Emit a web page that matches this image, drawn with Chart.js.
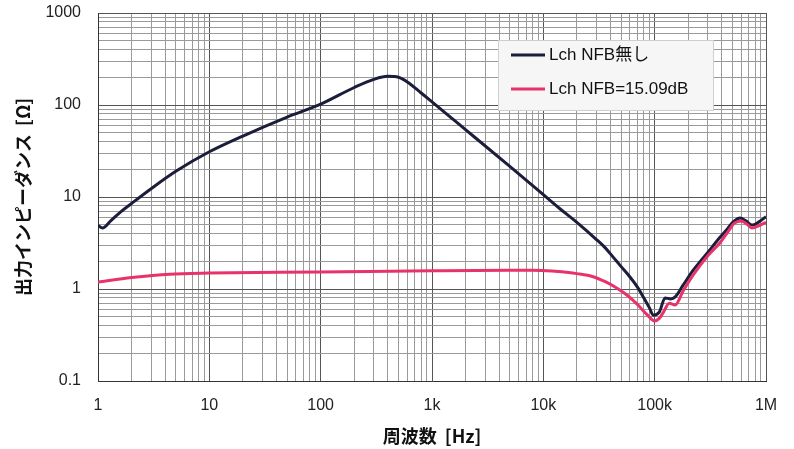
<!DOCTYPE html>
<html lang="ja">
<head>
    <meta charset="UTF-8">
    <title>出力インピーダンス</title>
    <style>
        body { margin: 0; background: #ffffff; }
        canvas { display: block; }
    </style>
</head>
<body>
    <canvas id="impChart" width="794" height="449"></canvas>

    <script src="https://cdn.jsdelivr.net/npm/chart.js"></script>
    <script>
        // Lch NFB無し
        const blackFreq = [1, 1.1, 1.3, 1.6, 2, 3, 5, 10, 20, 50, 100, 200, 300, 400, 500, 600, 800, 1000, 1500, 2000, 5000, 10000, 14000, 20000, 30000, 36000, 42000, 50000, 60000, 70000, 80000, 90000, 97000, 110000, 124000, 139000, 153000, 180000, 222000, 300000, 388000, 450000, 507000, 586000, 660000, 751000, 870000, 1000000];
        const blackZ = [4.9, 4.6, 5.5, 6.9, 8.5, 12.3, 19, 31, 46, 74, 102, 155, 190, 205, 200, 178, 135, 108, 72, 54, 21.5, 10.6, 7.5, 5.3, 3.45, 2.8, 2.25, 1.75, 1.35, 1.05, 0.8, 0.62, 0.52, 0.56, 0.8, 0.78, 0.82, 1.1, 1.6, 2.5, 3.67, 4.5, 5.35, 5.9, 5.5, 4.95, 5.4, 6.1];

        // Lch NFB=15.09dB
        const redFreq = [1, 2, 4.4, 10, 100, 1000, 5000, 8000, 12000, 16000, 20000, 28000, 36000, 46000, 57000, 70000, 85000, 100000, 110000, 120000, 135000, 153000, 180000, 222000, 300000, 388000, 450000, 520000, 600000, 670000, 751000, 870000, 1000000];
        const redZ = [1.19, 1.33, 1.45, 1.49, 1.53, 1.58, 1.6, 1.6, 1.57, 1.52, 1.47, 1.36, 1.2, 1.02, 0.85, 0.68, 0.53, 0.45, 0.48, 0.56, 0.7, 0.67, 0.95, 1.42, 2.3, 3.2, 4.1, 5.2, 5.5, 5.1, 4.6, 4.9, 5.3];

        const seriesLabels = ['Lch NFB無し', 'Lch NFB=15.09dB'];
        const seriesColors = ['#1b1d3a', '#e8336a'];

        const xTickLabels = { 1: '1', 10: '10', 100: '100', 1000: '1k', 10000: '10k', 100000: '100k', 1000000: '1M' };
        const yTickLabels = { 0.1: '0.1', 1: '1', 10: '10', 100: '100', 1000: '1000' };

        const toPoints = (xs, ys) => xs.map((x, i) => ({ x: x, y: ys[i] }));

        // 1..9 per decade grid
        function decadeTicks(minExp, maxExp) {
            const out = [];
            for (let e = minExp; e < maxExp; e++) {
                for (let s = 1; s <= 9; s++) {
                    out.push({ value: parseFloat((s * Math.pow(10, e)).toPrecision(6)) });
                }
            }
            out.push({ value: Math.pow(10, maxExp) });
            return out;
        }
        const isDecade = v => Math.abs(Math.log10(v) - Math.round(Math.log10(v))) < 1e-6;

        const legendBox = {
            id: 'legendBox',
            afterDraw(chart) {
                const ctx = chart.ctx;
                ctx.save();
                ctx.fillStyle = '#f6f6f6';
                ctx.strokeStyle = '#cfcfcf';
                ctx.lineWidth = 1;
                ctx.fillRect(498, 40, 215, 70);
                ctx.strokeRect(498.5, 40.5, 215, 70);
                ctx.font = '17px "Liberation Sans", "Noto Sans CJK JP", sans-serif';
                ctx.textBaseline = 'middle';
                const rows = [55, 89];
                rows.forEach((y, i) => {
                    ctx.strokeStyle = seriesColors[i];
                    ctx.lineWidth = 3;
                    ctx.beginPath();
                    ctx.moveTo(511, y);
                    ctx.lineTo(545, y);
                    ctx.stroke();
                    ctx.fillStyle = '#111111';
                    ctx.fillText(seriesLabels[i], 549, y);
                });
                ctx.restore();
            }
        };

        const gridColor = c => (c.tick && isDecade(c.tick.value)) ? '#555555' : '#9a9a9a';

        new Chart(document.getElementById('impChart').getContext('2d'), {
            type: 'line',
            data: {
                datasets: [
                    {
                        label: seriesLabels[1],
                        data: toPoints(redFreq, redZ),
                        borderColor: seriesColors[1],
                        borderWidth: 3,
                        pointRadius: 0,
                        cubicInterpolationMode: 'monotone'
                    },
                    {
                        label: seriesLabels[0],
                        data: toPoints(blackFreq, blackZ),
                        borderColor: seriesColors[0],
                        borderWidth: 3,
                        pointRadius: 0,
                        cubicInterpolationMode: 'monotone'
                    }
                ]
            },
            options: {
                responsive: false,
                animation: false,
                layout: { padding: { top: 13, right: 28, left: 0, bottom: 0 } },
                plugins: {
                    legend: { display: false },
                    tooltip: { enabled: false }
                },
                scales: {
                    x: {
                        type: 'logarithmic',
                        min: 1,
                        max: 1000000,
                        afterBuildTicks: axis => { axis.ticks = decadeTicks(0, 6); },
                        afterFit: axis => {
                            axis.height = 68;
                            axis.paddingLeft = 0;
                            axis.paddingRight = 0;
                        },
                        border: { color: '#333333', width: 1 },
                        grid: { color: gridColor, drawTicks: false },
                        ticks: {
                            autoSkip: false,
                            maxRotation: 0,
                            padding: 15,
                            color: '#222222',
                            font: { family: '"Liberation Sans", Arial, sans-serif', size: 16 },
                            callback: v => xTickLabels[v] || ''
                        },
                        title: {
                            display: true,
                            text: '周波数  [Hz]',
                            color: '#111111',
                            font: { family: '"Noto Sans CJK JP", sans-serif', size: 18, weight: 'bold' },
                            padding: { top: 0, bottom: 2 }
                        }
                    },
                    y: {
                        type: 'logarithmic',
                        min: 0.1,
                        max: 1000,
                        afterBuildTicks: axis => { axis.ticks = decadeTicks(-1, 3); },
                        afterFit: axis => {
                            axis.width = 98;
                            axis.paddingTop = 0;
                            axis.paddingBottom = 0;
                        },
                        border: { color: '#333333', width: 1 },
                        grid: { color: gridColor, drawTicks: false },
                        ticks: {
                            autoSkip: false,
                            padding: 17,
                            color: '#222222',
                            font: { family: '"Liberation Sans", Arial, sans-serif', size: 16 },
                            callback: v => yTickLabels[v] || ''
                        },
                        title: {
                            display: true,
                            text: '出力インピーダンス  [Ω]',
                            color: '#111111',
                            font: { family: '"Noto Sans CJK JP", sans-serif', size: 18, weight: 'bold' },
                            padding: { top: 12, bottom: 0 }
                        }
                    }
                }
            },
            plugins: [legendBox]
        });
    </script>
</body>
</html>
